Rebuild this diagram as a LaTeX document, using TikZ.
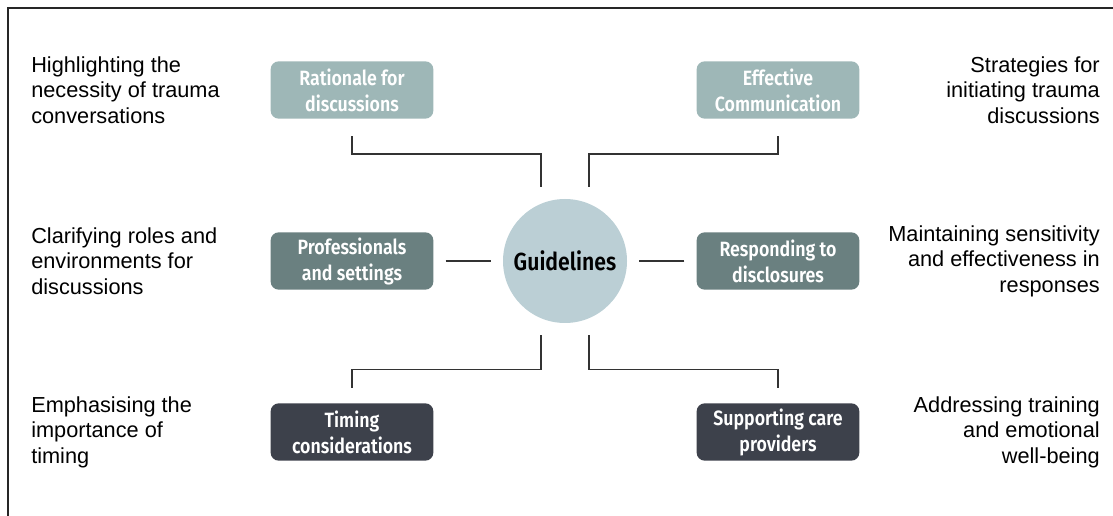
\documentclass[tikz,border=0pt]{standalone}
\usepackage{fontspec}
\setmainfont{Liberation Sans}
\newfontfamily\firafont[FakeStretch=0.86,BoldFont={Fira Sans SemiBold}]{Fira Sans}
\usepackage{xcolor}
\usepackage{tikz}
\usetikzlibrary{calc}
\definecolor{toptone}{HTML}{9EB7B7}
\definecolor{midtone}{HTML}{6A8080}
\definecolor{lowtone}{HTML}{3D414B}
\definecolor{hubtone}{HTML}{BBCFD5}
\definecolor{wire}{HTML}{333333}

\begin{document}
\begin{tikzpicture}[x=0.75pt,y=-0.75pt,
  topic/.style={rounded corners=6pt,minimum width=122pt,minimum height=43pt,align=center,text=white,inner sep=0pt,
    font=\firafont\bfseries\fontsize{15.5}{19.5}\selectfont},
  note/.style={inner sep=0pt,font=\fontsize{16.3}{19.2}\selectfont},
  link/.style={draw=wire,line width=1.1pt,shorten <=9pt,shorten >=9pt}]
\useasboundingbox (0,0) rectangle (1113,516);
\draw[line width=1.6pt,draw=black!85] (8,530) |- (1130,8);

\node[circle,fill=hubtone,minimum size=93pt,inner sep=0pt,text=black,font=\firafont\bfseries\fontsize{18.5}{22}\selectfont] (guidelines) at (565,261) {Guidelines};

\node[topic,fill=toptone] (rationale) at (352,90) {Rationale for\\discussions};
\node[topic,fill=toptone] (effective) at (778,90) {Effective\\Communication};
\node[topic,fill=midtone] (professionals) at (352,261) {Professionals\\and settings};
\node[topic,fill=midtone] (responding) at (778,261) {Responding to\\disclosures};
\node[topic,fill=lowtone] (timing) at (352,432) {Timing\\considerations};
\node[topic,fill=lowtone] (supporting) at (778,432) {Supporting care\\providers};

\node[note,anchor=west,align=left] (necessity) at (31,90) {Highlighting the\\necessity of trauma\\conversations};
\node[note,anchor=west,align=left] (roles) at (31,261) {Clarifying roles and\\environments for\\discussions};
\node[note,anchor=west,align=left] (importance) at (31,432) {Emphasising the\\importance of\\timing};
\node[note,anchor=east,align=right] (strategies) at (1100,90) {Strategies for\\initiating trauma\\discussions};
\node[note,anchor=east,align=right] (sensitivity) at (1100,261) {Maintaining sensitivity\\and effectiveness in\\responses};
\node[note,anchor=east,align=right] (training) at (1100,432) {Addressing training\\and emotional\\well-being};

\draw[link,shorten <=13pt] (rationale.south) -- ++(0,35) -| ($(guidelines.north)+(-24,0)$);
\draw[link,shorten <=13pt] (effective.south) -- ++(0,35) -| ($(guidelines.north)+(24,0)$);
\draw[link] (professionals) -- (guidelines);
\draw[link] (responding) -- (guidelines);
\draw[link,shorten >=11pt] ($(guidelines.south)+(-24,0)$) -- ++(0,46) -| (timing.north);
\draw[link,shorten >=11pt] ($(guidelines.south)+(24,0)$) -- ++(0,46) -| (supporting.north);
\end{tikzpicture}
\end{document}
